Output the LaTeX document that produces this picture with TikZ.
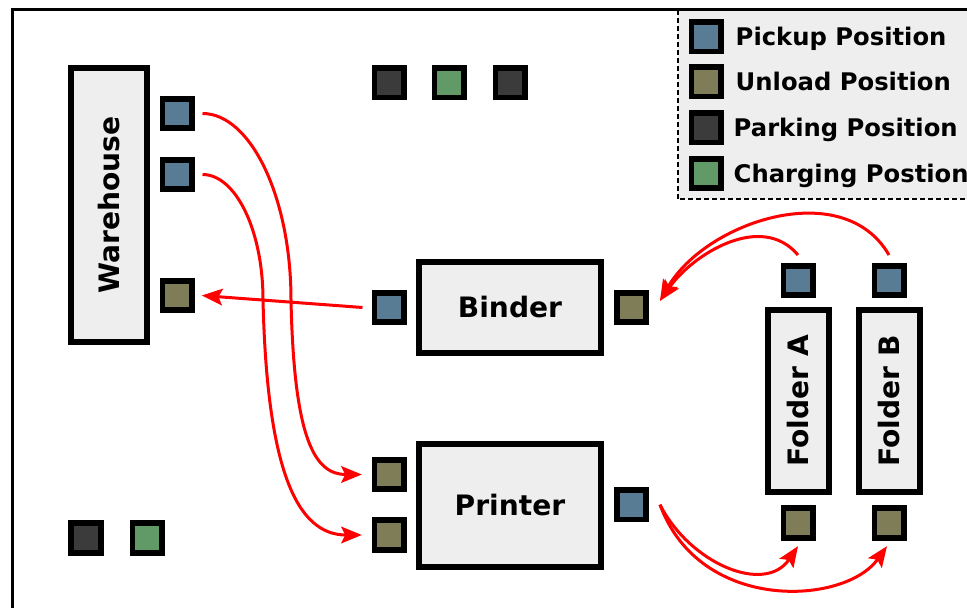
\documentclass[tikz,border=0pt]{standalone}
\usepackage{fontspec}
\setmainfont{DejaVu Sans}
\usepackage{tikz}
\usetikzlibrary{arrows.meta,positioning}
\definecolor{PickBlue}{HTML}{577C94}
\definecolor{UnloadOlive}{HTML}{7F7C58}
\definecolor{ParkGray}{HTML}{3B3B3B}
\definecolor{ChargeGreen}{HTML}{619A66}
\definecolor{BoxFill}{HTML}{EEEEEE}
\definecolor{FlowRed}{HTML}{FF0000}
\tikzset{
  machine/.style={draw=black,fill=BoxFill,line width=0.18cm,inner sep=0pt,align=center,text height=17.5pt,text depth=0pt,font=\fontsize{24}{28}\selectfont\bfseries},
  spot/.style={draw=black,line width=0.17cm,minimum size=0.88cm,inner sep=0pt},
  pickup/.style={spot,fill=PickBlue},
  unload/.style={spot,fill=UnloadOlive},
  parking/.style={spot,fill=ParkGray},
  charging/.style={spot,fill=ChargeGreen},
  legendtext/.style={inner sep=0pt,text height=15.1pt,text depth=0pt,font=\fontsize{20.7}{24}\selectfont\bfseries},
  flow/.style={-{Stealth[length=0.62cm,width=0.5cm,inset=0.12cm]},line width=0.09cm,color=FlowRed}
}

\begin{document}
\begin{tikzpicture}[x=0.03cm,y=0.03cm]
  \useasboundingbox (0,0) rectangle (967,608);
  \clip (0,0) rectangle (967,608);
  % legend and frame
  \draw[fill=BoxFill,line width=0.07cm,dash pattern=on 0.14cm off 0.1cm] (678,409) rectangle (1000,598.3);
  \draw[line width=0.09cm] (12.5,-20) rectangle (1000,598.3);
  \node[pickup] (lgpick) at (706,571) {};
  \node[legendtext,right=0.36cm of lgpick] (lgpicktxt) {Pickup Position};
  \node[unload] (lgunload) at (706,526) {};
  \node[legendtext,right=0.36cm of lgunload] (lgunloadtxt) {Unload Position};
  \node[parking] (lgpark) at (706,480) {};
  \node[legendtext,right=0.3cm of lgpark] (lgparktxt) {Parking Position};
  \node[charging] (lgcharge) at (706,434.6) {};
  \node[legendtext,right=0.3cm of lgcharge] (lgchargetxt) {Charging Postion};
  % stations
  \node[machine,rotate=90,minimum width=8.22cm,minimum height=2.28cm] (warehouse) at (109,403) {Warehouse};
  \node[machine,minimum width=5.46cm,minimum height=2.73cm] (binder) at (510,300.3) {Binder};
  \node[machine,minimum width=5.46cm,minimum height=3.69cm] (printer) at (510,102.5) {Printer};
  \node[machine,rotate=90,minimum width=5.46cm,minimum height=1.83cm] (foldera) at (798,207) {Folder A};
  \node[machine,rotate=90,minimum width=5.46cm,minimum height=1.83cm] (folderb) at (889.3,207) {Folder B};
  % positions
  \node[pickup] (whpick1) at (177,494.5) {};
  \node[pickup] (whpick2) at (177,433.5) {};
  \node[unload] (whunload) at (177,312.5) {};
  \node[parking] (park1) at (389,525) {};
  \node[charging] (charge1) at (449,525) {};
  \node[parking] (park2) at (510,525) {};
  \node[parking] (park3) at (86,70) {};
  \node[charging] (charge2) at (147,70) {};
  \node[pickup] (bdpick) at (389,300.5) {};
  \node[unload] (bdunload) at (631.5,300.5) {};
  \node[unload] (prunload1) at (389,133.5) {};
  \node[unload] (prunload2) at (389,73) {};
  \node[pickup] (prpick) at (631.5,103.3) {};
  \node[pickup] (fapick) at (798,327.5) {};
  \node[pickup] (fbpick) at (889,327.5) {};
  \node[unload] (faunload) at (798,85) {};
  \node[unload] (fbunload) at (889,85) {};
  % transports
  \draw[flow] ([xshift=0.24cm]whpick1.east) .. controls +(48,0) and +(0,103) .. (291,308)
    .. controls +(3,-140) and +(-47,0) .. ([xshift=-0.29cm]prunload1.west);
  \draw[flow] ([xshift=0.24cm]whpick2.east) .. controls +(33,0) and +(0,70) .. (263,308)
    .. controls +(4,-170) and +(-65,0) .. ([xshift=-0.29cm]prunload2.west);
  \draw[flow] ([xshift=-0.27cm]bdpick.west) -- ([xshift=0.22cm]whunload.east);
  \draw[flow] ([yshift=0.24cm]fapick.north) to[out=130,in=55] ([xshift=0.33cm,yshift=0.2cm]bdunload.east);
  \draw[flow] ([yshift=0.24cm]fbpick.north) to[out=120,in=60] ([xshift=0.33cm,yshift=0.2cm]bdunload.east);
  \draw[flow] ([xshift=0.33cm]prpick.east) .. controls +(30,-59) and +(-33,-49) .. ([yshift=-0.17cm]faunload.south);
  \draw[flow] ([xshift=0.33cm]prpick.east) .. controls +(40,-109) and +(-42,-59) .. ([xshift=-0.06cm,yshift=-0.17cm]fbunload.south);
\end{tikzpicture}
\end{document}
